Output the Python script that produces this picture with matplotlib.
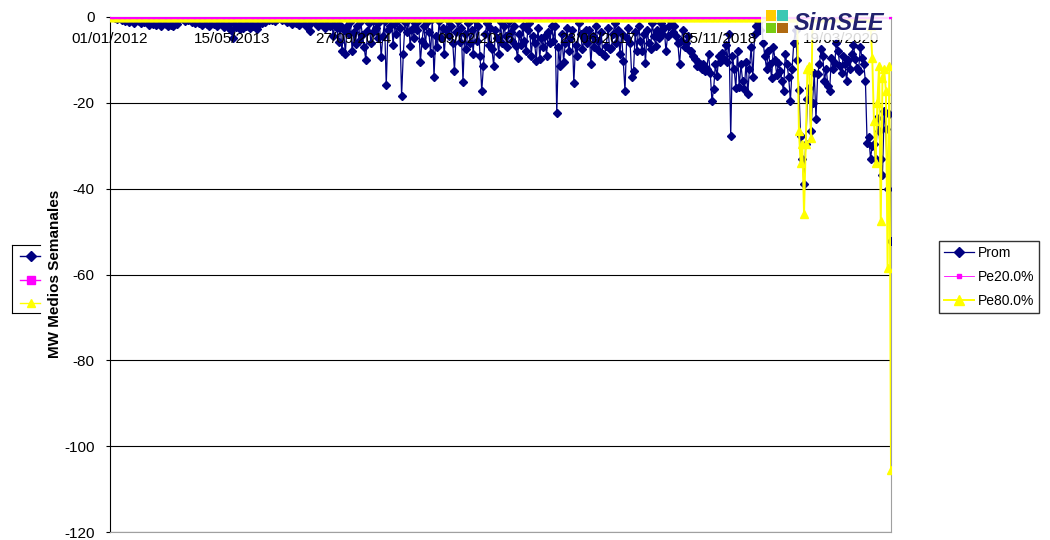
import matplotlib
matplotlib.use("Agg")
import matplotlib.pyplot as plt
from matplotlib.patches import Rectangle
from matplotlib.lines import Line2D
import pandas as pd

plt.rcParams['font.family'] = ['Liberation Sans', 'DejaVu Sans']

# ---- data (weekly averages, MW) ----
start_date = "2012-01-01"
prom = [
    0, 0, 0, -0.2, -0.5, 0, -0.3, -0.6, -0.2, -0.9, -0.4, -1.2, -0.3, -0.8, -1.3, -0.5, -0.2, -1.0, -1.4, -0.6,
    -1.2, -0.4, -1.5, -1.8, -0.7, -1.6, -1.1, -1.9, -0.8, -1.5, -2.0, -1.3, -0.6, -1.7, -2.1, -1.4, -1.8, -2.2, -1.0, -1.6,
    -0.5, -0.2, 0, -0.4, -1.0, -0.3, -0.8, -0.2, -1.2, -0.6, -1.5, -0.9, -1.3, -0.4, -1.8, -1.1, -0.6, -1.6, -2.0, -1.2,
    -0.8, -1.6, -1.0, -2.0, -1.3, -0.6, -1.8, -2.4, -1.1, -1.7, -2.6, -3.0, -4.8, -1.5, -2.3, -1.2, -2.8, -1.9, -2.5, -1.4,
    -2.2, -1.0, -2.6, -1.6, -2.0, -1.2, -2.9, -1.8, -0.9, -1.5, -0.6, -1.1, -0.4, -0.8, -0.3, -0.6, -0.2, -0.9, -0.4, -0.1,
    -0.3, -0.8, -0.2, -0.6, -1.2, -0.4, -0.9, -1.6, -0.5, -1.3, -0.7, -1.8, -1.0, -0.4, -1.5, -2.0, -1.1, -3.3, -1.4, -0.8,
    -1.2, -0.5, -2.0, -1.0, -0.6, -1.8, -2.6, -1.2, -0.8, -2.2, -1.5, -4.4, -1.0, -2.5, -5.9, -1.8, -7.9, -3.0, -8.6, -2.2,
    -4.0, -1.2, -8.0, -3.5, -6.2, -2.0, -5.6, -1.0, -4.2, -7.0, -10.0, -3.2, -1.5, -6.0, -3.5, -0.8, -2.5, -5.0, -1.2, -9.4,
    -4.5, -1.0, -15.9, -3.0, -2.0, -0.5, -6.5, -1.5, -4.0, -0.8, -2.5, -18.4, -8.6, -1.2, -3.5, -0.6, -6.7, -2.8, -5.0, -1.4,
    -3.0, -0.8, -10.5, -5.5, -2.0, -6.5, -1.2, -3.5, -8.4, -0.5, -14.0, -4.5, -7.0, -1.0, -5.0, -2.5, -8.6, -3.0, -0.6, -4.5,
    -2.0, -6.0, -12.6, -3.5, -1.0, -5.9, -2.5, -15.2, -4.0, -7.5, -1.5, -6.0, -3.0, -8.6, -0.8, -5.5, -2.0, -9.0, -17.3, -11.4,
    -4.0, -1.5, -6.5, -2.5, -7.5, -11.4, -3.0, -5.0, -8.6, -1.2, -6.0, -2.0, -4.5, -7.0, -1.0, -3.5, -5.5, -2.2, -6.8, -9.6,
    -4.0, -6.5, -2.0, -5.5, -8.0, -3.0, -1.5, -9.0, -4.5, -6.0, -10.3, -2.5, -9.8, -5.0, -7.0, -4.4, -9.0, -3.5, -6.0, -2.0,
    -5.5, -2.0, -22.4, -7.0, -11.4, -4.0, -10.4, -6.0, -2.5, -8.0, -5.0, -3.0, -15.4, -6.5, -9.0, -1.5, -4.0, -7.5, -5.0, -3.0,
    -6.0, -3.0, -11.0, -4.5, -7.0, -2.0, -5.5, -8.0, -3.5, -8.6, -9.0, -6.7, -2.5, -7.5, -7.2, -4.0, -1.5, -6.0, -3.0, -8.6,
    -4.0, -10.3, -17.3, -5.0, -2.5, -6.0, -14.0, -12.6, -3.5, -7.9, -2.0, -5.5, -8.0, -4.0, -10.7, -3.0, -6.0, -7.5, -1.5, -4.5,
    -6.7, -3.0, -5.0, -1.5, -4.0, -2.5, -7.9, -4.5, -2.0, -1.0, -3.5, -2.0, -4.5, -6.0, -11.0, -5.6, -3.0, -7.0, -6.0, -4.5,
    -8.0, -7.9, -9.0, -9.8, -11.4, -10.5, -11.0, -12.1, -11.0, -12.5, -12.0, -8.6, -13.0, -19.6, -16.8, -11.0, -13.8, -9.0, -10.5, -8.5,
    -9.8, -6.5, -10.5, -4.0, -27.8, -9.0, -12.0, -16.6, -8.0, -16.4, -11.0, -15.0, -16.8, -10.5, -18.0, -12.0, -7.0, -14.0, -4.0, -2.0,
    -1.0, -3.0, -0.5, -6.0, -9.0, -12.1, -8.0, -11.0, -14.2, -7.0, -10.0, -13.6, -10.7, -12.5, -15.0, -17.3, -8.6, -11.0, -14.0, -19.6,
    -12.0, -6.0, -3.0, -10.0, -17.0, -27.8, -33.0, -39.0, -29.6, -19.0, -16.6, -26.6, -20.0, -13.0, -23.8, -13.3, -11.0, -7.5, -9.0, -15.0,
    -12.0, -16.1, -17.3, -9.5, -12.0, -10.7, -6.0, -8.0, -11.5, -13.0, -9.0, -11.0, -15.0, -10.0, -12.0, -8.6, -6.5, -9.8, -11.8, -12.6,
    -7.0, -9.6, -11.0, -15.0, -29.4, -28.0, -33.0, -30.0, -29.6, -33.0, -23.6, -26.6, -33.2, -36.7, -22.0, -26.2, -40.0, -22.7, -52.3,
]
pe20 = [0.0] * len(prom)
pe80 = ([0.0] * 404
        + [-26.6, -34.0, -29.6, -45.8, -29.6, -12.0, -11.5, -28.3]
        + [0.0] * 34
        + [-2.0, -9.5, -24.3, -34.0, -20.0, -11.4, -47.6, -14.3, -12.0, -17.3, -58.6, -11.4, -105.5])
series_names = ["Prom", "Pe20.0%", "Pe80.0%"]
xtick_dates = ["2012-01-01", "2013-05-15", "2014-09-27", "2016-02-09", "2017-06-23", "2018-11-05", "2020-03-19"]
xtick_labels = ["01/01/2012", "15/05/2013", "27/09/2014", "09/02/2016", "23/06/2017", "05/11/2018", "19/03/2020"]
yticks = [0, -20, -40, -60, -80, -100, -120]
ylabel = "MW Medios Semanales"

dates = pd.date_range(start_date, periods=len(prom), freq="7D")

W, H = 1050, 540
fig = plt.figure(figsize=(W / 100, H / 100), dpi=100)
fig.patch.set_facecolor("white")

def fx(x):
    return x / W

def fy(y):
    return 1 - y / H

ax = fig.add_axes([fx(110), fy(532), fx(891) - fx(110), fy(17) - fy(532)])

l_prom, = ax.plot(dates, prom, color="#000080", lw=0.9, marker="D", markersize=3.9, zorder=3)
l_pe80, = ax.plot(dates, pe80, color="#FFFF00", lw=1.4, marker="^", markersize=6.0, zorder=4)
l_pe20, = ax.plot(dates, pe20, color="#FF00FF", lw=0.6, marker="s", markersize=2.0, zorder=5)

ax.set_xlim(dates[0], dates[-1])
ax.set_ylim(-120, 0)
ax.set_yticks(yticks)
ax.set_yticklabels([str(v) for v in yticks])
ax.yaxis.grid(True, color="black", lw=0.8)
ax.set_axisbelow(True)

ax.set_xticks(pd.to_datetime(xtick_dates))
ax.set_xticklabels(xtick_labels)
ax.tick_params(axis="x", top=True, bottom=False, labeltop=True, labelbottom=False,
               length=0, pad=-21, labelsize=11, colors="#000000")
ax.tick_params(axis="y", direction="out", length=3, width=0.8, pad=8, labelsize=11)
ax.xaxis.set_zorder(6)   # date labels are printed over the series, as in the reference

for s in ["right", "bottom"]:
    ax.spines[s].set_color("#A0A0A0")
    ax.spines[s].set_linewidth(0.8)
ax.spines["left"].set_color("black")
ax.spines["top"].set_color("black")

# y label
fig.text(fx(55), fy(274), ylabel, rotation=90, ha="center", va="center",
         fontsize=11, fontweight="bold")

# right legend
fig.legend([l_prom, l_pe20, l_pe80], series_names, loc="upper left",
           bbox_to_anchor=(fx(939), fy(241)), frameon=True, fancybox=False,
           edgecolor="black", fontsize=10, handlelength=2.2, handletextpad=0.25,
           labelspacing=0.72, borderpad=0.35, borderaxespad=0, markerscale=1.2)

# left orphan legend (no labels)
box_l, box_t, box_b, box_r = 12, 245, 313, 40
for seg in [((box_l, box_t), (box_r, box_t)), ((box_l, box_b), (box_r, box_b)), ((box_l, box_t), (box_l, box_b))]:
    (x0, y0), (x1, y1) = seg
    fig.add_artist(Line2D([fx(x0), fx(x1)], [fy(y0), fy(y1)], color="black", lw=0.8))
for yy, ln in zip([256, 280, 303], [l_prom, l_pe20, l_pe80]):
    fig.add_artist(Line2D([fx(20), fx(40)], [fy(yy), fy(yy)], color=ln.get_color(), lw=1.0))
    fig.add_artist(Line2D([fx(31)], [fy(yy)], color=ln.get_color(), marker=ln.get_marker(),
                          markersize=5.5, lw=0))

# SimSEE logo (semi-opaque white backdrop, as in the reference)
fig.add_artist(Rectangle((fx(761), fy(40)), fx(889) - fx(761), fy(3) - fy(40),
                         facecolor="white", edgecolor="none", alpha=0.85, zorder=10))
for (x0, y0, x1, y1, c) in [(766, 10, 776, 21, "#FFCC00"), (777, 10, 788, 21, "#3CC8B4"),
                            (766, 23, 776, 33, "#77CC11"), (777, 23, 788, 33, "#B06A10")]:
    fig.add_artist(Rectangle((fx(x0), fy(y1)), fx(x1) - fx(x0), fy(y0) - fy(y1),
                             facecolor=c, edgecolor="none", zorder=11))
fig.text(fx(794), fy(30.5), "SimSEE", ha="left", va="baseline", fontsize=17,
         fontstyle="italic", fontweight="bold", color="#22226E", zorder=12)

fig.savefig("out.png", dpi=100, facecolor="white")
